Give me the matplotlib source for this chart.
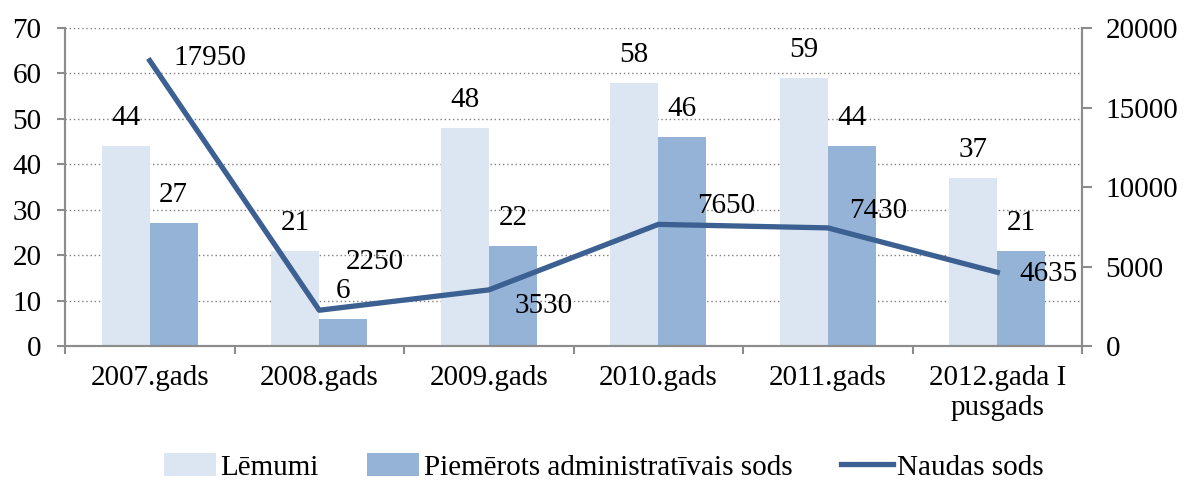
import matplotlib.pyplot as plt
import numpy as np

plt.rcParams['font.family'] = ['Liberation Serif', 'DejaVu Serif']

# Dati
gadi = ["2007.gads", "2008.gads", "2009.gads", "2010.gads", "2011.gads", "2012.gada I\npusgads"]
lemumi = [44, 21, 48, 58, 59, 37]
piemerots = [27, 6, 22, 46, 44, 21]
naudas_sods = [17950, 2250, 3530, 7650, 7430, 4635]

# label offsets for the line values (pixels, y up)
line_offsets = [(60, 3), (56, 48), (55, -16), (68, 18), (50, 17), (51, -2)]

c_lem = '#dce6f2'
c_pie = '#95b3d7'
c_line = '#3b6091'
grey = '#8c8c8c'
fs = 21

fig = plt.figure(figsize=(11.84, 4.83), dpi=100)
ax = fig.add_axes([0.0549, 0.2836, 0.859, 0.6584])
ax2 = ax.twinx()

x = np.arange(len(gadi))
w = 0.283
b1 = ax.bar(x - w / 2, lemumi, w, color=c_lem, label='Lēmumi', zorder=2)
b2 = ax.bar(x + w / 2, piemerots, w, color=c_pie, label='Piemērots administratīvais sods', zorder=2)
for bars, vals in ((b1, lemumi), (b2, piemerots)):
    for rect, v in zip(bars, vals):
        ax.annotate(str(v), (rect.get_x() + rect.get_width() / 2, v), xytext=(0, 28),
                    textcoords='offset pixels', ha='center', va='center', fontsize=fs)

ln, = ax2.plot(x, naudas_sods, color=c_line, lw=3.8, label='Naudas sods', zorder=3)
for xi, v, off in zip(x, naudas_sods, line_offsets):
    ax2.annotate(str(v), (xi, v), xytext=off, textcoords='offset pixels',
                 ha='center', va='center', fontsize=fs)

ax.set_xlim(-0.5, len(gadi) - 0.5)
ax.set_ylim(0, 70)
ax.set_yticks(range(0, 71, 10))
ax2.set_ylim(0, 20000)
ax2.set_yticks(range(0, 20001, 5000))

ax.yaxis.grid(True, linestyle=(0, (1, 2)), color='#7f7f7f', lw=1)
ax.set_axisbelow(True)

ax.set_xticks(x)
ax.set_xticklabels(gadi, fontsize=fs, linespacing=1.2)
ax.set_xticks(np.arange(-0.5, len(gadi), 1), minor=True)
ax.tick_params(axis='x', which='major', length=0, pad=14)
ax.tick_params(axis='x', which='minor', length=6, color=grey, width=1.5)
ax.tick_params(axis='y', labelsize=fs, length=6, color=grey, width=1.5, pad=11)
ax2.tick_params(axis='y', labelsize=fs, length=7, color=grey, width=1.5, pad=10)

for a in (ax, ax2):
    a.spines['top'].set_visible(False)
    for s in ('left', 'right', 'bottom'):
        a.spines[s].set_color(grey)
        a.spines[s].set_linewidth(1.5)

handles = [b1, b2, ln]
fig.legend(handles, [h.get_label() for h in handles], loc='center', bbox_to_anchor=(0.51, 0.033),
           ncol=3, frameon=False, fontsize=fs, handlelength=1.8, handleheight=0.85,
           handletextpad=0.15, columnspacing=1.65)

plt.savefig('out.png', dpi=100)
